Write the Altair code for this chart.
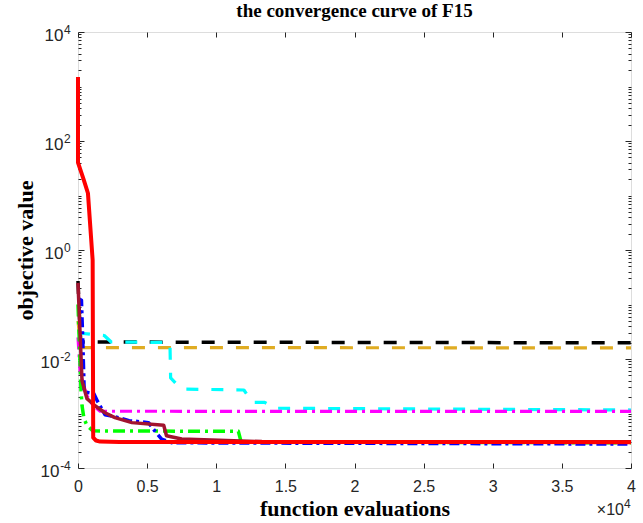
import json
import altair as alt
import pandas as pd

# ---------------- data ----------------
title_text = "the convergence curve of F15"
x_title = "function evaluations"
y_title = "objective value"

x_tick_values = [0, 5000, 10000, 15000, 20000, 25000, 30000, 35000, 40000]
x_tick_labels = ["0", "0.5", "1", "1.5", "2", "2.5", "3", "3.5", "4"]
x_exponent_base = "×10"
x_exponent_power = "4"

y_major_values = [0.0001, 0.01, 1, 100, 10000]
y_major_base = "10"
y_major_powers = ["-4", "-2", "0", "2", "4"]

orange_x = [0, 200, 40000]
orange_y = [0.05, 0.0162, 0.016]

black_x = [0, 80, 200, 40000]
black_y = [0.27, 0.08, 0.0205, 0.0198]

cyan_x = [0, 1900, 2400, 6650, 6700, 7200, 7700, 12000, 12600, 13500, 14200, 40000]
cyan_y = [0.03, 0.027, 0.0205, 0.0201, 0.0045, 0.0033, 0.0028, 0.0027, 0.0016, 0.0016, 0.00125, 0.00116]

magenta_x = [0, 150, 600, 1100, 1600, 40000]
magenta_y = [0.025, 0.006, 0.0022, 0.0014, 0.0011, 0.00109]

green_x = [0, 220, 290, 430, 650, 1080, 11600, 11800, 40000]
green_y = [0.1, 0.0026, 0.0014, 0.00081, 0.0006, 0.00048, 0.00047, 0.0003, 0.00029]

blue_x = [0, 250, 350, 450, 1150, 1400, 1950, 2450, 3700, 5100, 5550, 6050, 6800, 40000]
blue_y = [0.13, 0.12, 0.02, 0.0025, 0.0023, 0.0017, 0.00095, 0.0009, 0.00074, 0.00068, 0.00048, 0.00034, 0.00029, 0.000275]

darkred_x = [0, 290, 650, 1230, 1950, 2670, 3900, 6200, 6400, 7500, 13300, 40000]
darkred_y = [0.25, 0.004, 0.00187, 0.00139, 0.00103, 0.00084, 0.00068, 0.00061, 0.00039, 0.00034, 0.000305, 0.000303]

red_x = [0, 0, 400, 720, 1060, 1100, 1300, 1600, 3000, 40000]
red_y = [1500, 40, 20, 11, 0.65, 0.00036, 0.00032, 0.000305, 0.0003, 0.000298]

# (name, xs, ys, colour, dash, width) drawn bottom to top
series = [
    ("orange", orange_x, orange_y, "#E0AC22", [13, 13], 3.2),
    ("black", black_x, black_y, "#000000", [13, 13], 3.5),
    ("cyan", cyan_x, cyan_y, "#00FFFF", [12, 13], 3.2),
    ("magenta", magenta_x, magenta_y, "#FF00FF", [12, 5, 3, 5], 3.2),
    ("green", green_x, green_y, "#00FF00", [12, 5, 3, 5], 3.5),
    ("blue", blue_x, blue_y, "#0000FF", [10, 4, 3, 4], 3.5),
    ("darkred", darkred_x, darkred_y, "#A2142F", None, 3.5),
    ("red", red_x, red_y, "#FF0000", None, 4.0),
]

# ---------------- layout ----------------
W, H = 553, 436
AX = "#262626"
LABEL_FONT = "Liberation Sans"
SERIF = "Liberation Serif"

y_all_ticks = []
for k in range(-4, 4):
    for m in range(1, 10):
        y_all_ticks.append(float(f"{m}e{k}"))
y_all_ticks.append(10000.0)

xscale = alt.Scale(domain=[0, 40000], nice=False, zero=False)
yscale = alt.Scale(type="log", domain=[0.0001, 10000], nice=False)


def lookup_expr(labels, values):
    return "{}[indexof({}, datum.value)]".format(json.dumps(labels, ensure_ascii=False), json.dumps(values))


x_label_expr = lookup_expr(x_tick_labels, x_tick_values)
y_power_expr = lookup_expr(y_major_powers, y_major_values)
major_test = "indexof({}, datum.value) >= 0".format(json.dumps(y_major_values))
y_tick_size = {"condition": {"test": major_test, "value": 6}, "value": 3}

pos_values = [v for v, p in zip(y_major_values, y_major_powers) if not p.startswith("-")]
neg_values = [v for v, p in zip(y_major_values, y_major_powers) if p.startswith("-")]

layers = []
for name, xs, ys, color, dash, width in series:
    df = pd.DataFrame({"x": xs, "y": ys, "i": list(range(len(xs)))})
    mk = dict(color=color, strokeWidth=width, strokeCap="butt", strokeJoin="round")
    if dash:
        mk["strokeDash"] = dash
    layers.append(
        alt.Chart(df).mark_line(**mk).encode(
            x=alt.X("x:Q", scale=xscale, axis=None),
            y=alt.Y("y:Q", scale=yscale, axis=None),
            order="i:Q",
        )
    )

frame_df = pd.DataFrame({"x": [0, 40000], "y": [0.0001, 10000]})


def ylab_axis(values, expr, size, padding, offset):
    return alt.Axis(orient="left", values=values, labelExpr=expr, ticks=False, domain=False, grid=False,
                    labelFont=LABEL_FONT, labelFontSize=size, labelColor=AX, labelPadding=padding,
                    labelOffset=offset, labelAlign="right", labelOverlap=False, title="")


# x axis labels + y "10" (non-negative powers)
axes_main = alt.Chart(frame_df).mark_point(opacity=0).encode(
    x=alt.X("x:Q", scale=xscale, axis=alt.Axis(
        orient="bottom", values=x_tick_values, labelExpr=x_label_expr, ticks=False, domain=False,
        grid=False, labelFont=LABEL_FONT, labelFontSize=16, labelColor=AX, labelPadding=10,
        labelFlush=False, labelOverlap=False,
        title=x_title, titleFont=SERIF, titleFontSize=22, titleFontWeight="bold",
        titleColor="black", titlePadding=4)),
    y=alt.Y("y:Q", scale=yscale, axis=alt.Axis(
        orient="left", values=pos_values, labelExpr="'" + y_major_base + "'", ticks=False, domain=False,
        grid=False, labelFont=LABEL_FONT, labelFontSize=17, labelColor=AX, labelPadding=15,
        labelOffset=3.5, labelAlign="right", labelOverlap=False,
        title=y_title, titleFont=SERIF, titleFontSize=22, titleFontWeight="bold",
        titleColor="black", titlePadding=7)),
)

# y "10" for negative powers
axes_neg = alt.Chart(frame_df).mark_point(opacity=0).encode(
    x=alt.X("x:Q", scale=xscale, axis=None),
    y=alt.Y("y:Q", scale=yscale, axis=ylab_axis(neg_values, "'" + y_major_base + "'", 17, 19, 3.5)),
)

# y exponents
axes_pow = alt.Chart(frame_df).mark_point(opacity=0).encode(
    x=alt.X("x:Q", scale=xscale, axis=None),
    y=alt.Y("y:Q", scale=yscale, axis=ylab_axis(y_major_values, y_power_expr, 12, 7.7, -3)),
)

# inward ticks on bottom and left edges
ticks_bl = alt.Chart(frame_df).mark_point(opacity=0).encode(
    x=alt.X("x:Q", scale=xscale, axis=alt.Axis(
        orient="top", offset=-H, values=x_tick_values, labels=False, domain=False, grid=False,
        tickSize=5, tickColor=AX, title="")),
    y=alt.Y("y:Q", scale=yscale, axis=alt.Axis(
        orient="right", offset=-W, values=y_all_ticks, labels=False, domain=False, grid=False,
        tickSize=y_tick_size, tickColor=AX, title="")),
)

# inward ticks on top and right edges
ticks_tr = alt.Chart(frame_df).mark_point(opacity=0).encode(
    x=alt.X("x:Q", scale=xscale, axis=alt.Axis(
        orient="bottom", offset=-H, values=x_tick_values, labels=False, domain=False, grid=False,
        tickSize=5, tickColor=AX, title="")),
    y=alt.Y("y:Q", scale=yscale, axis=alt.Axis(
        orient="left", offset=-W, values=y_all_ticks, labels=False, domain=False, grid=False,
        tickSize=y_tick_size, tickColor=AX, title="")),
)

exp_base = alt.Chart(pd.DataFrame({"t": [x_exponent_base]})).mark_text(
    align="right", baseline="alphabetic", font=LABEL_FONT, fontSize=16, color=AX, dx=-7
).encode(
    x=alt.X(datum=40000, type="quantitative", scale=xscale, axis=None),
    y=alt.value(H + 47),
    text="t:N",
)
exp_pow = alt.Chart(pd.DataFrame({"t": [x_exponent_power]})).mark_text(
    align="left", baseline="alphabetic", font=LABEL_FONT, fontSize=12, color=AX, dx=-7
).encode(
    x=alt.X(datum=40000, type="quantitative", scale=xscale, axis=None),
    y=alt.value(H + 40),
    text="t:N",
)

title_mark = alt.Chart(pd.DataFrame({"t": [title_text]})).mark_text(
    align="center", baseline="alphabetic", font=SERIF, fontSize=19, fontWeight="bold", color="black"
).encode(
    x=alt.value(W / 2),
    y=alt.value(-15),
    text="t:N",
)

chart = alt.layer(
    axes_main, axes_neg, axes_pow, ticks_bl, ticks_tr, *layers, exp_base, exp_pow, title_mark
).resolve_axis(
    x="independent", y="independent"
).properties(
    width=W,
    height=H,
    autosize=alt.AutoSizeParams(type="none"),
    padding={"left": 78, "top": 32, "right": 12, "bottom": 55},
).configure_view(stroke=AX, strokeWidth=1).configure(background="white")

chart.save("out.html", embed_options={"renderer": "svg", "actions": False})
